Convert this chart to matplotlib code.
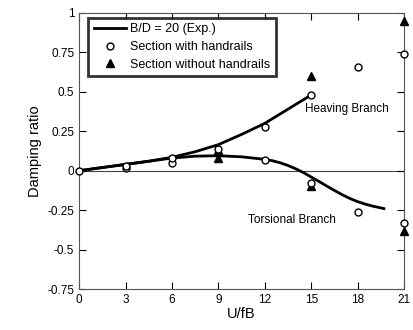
import matplotlib.pyplot as plt

plt.rcParams['font.family'] = ['Liberation Sans', 'DejaVu Sans']

# experimental curves (B/D = 20)
heave_x = [0, 1.5, 3, 4.5, 6, 7.5, 9, 10.5, 12, 13.5, 15]
heave_y = [0, 0.02, 0.04, 0.06, 0.085, 0.12, 0.165, 0.23, 0.30, 0.39, 0.48]
tors_x = [0, 1.5, 3, 4.5, 6, 7.5, 9, 10.5, 12, 12.5, 13, 13.5, 14, 14.5, 15, 15.5,
          16, 16.5, 17, 17.5, 18, 18.5, 19, 19.7]
tors_y = [0, 0.02, 0.04, 0.06, 0.08, 0.092, 0.095, 0.088, 0.072, 0.063, 0.05, 0.033,
          0.012, -0.012, -0.04, -0.068, -0.097, -0.125, -0.152, -0.176, -0.196,
          -0.212, -0.225, -0.24]

# section with handrails
with_x = [0, 3, 3, 6, 6, 9, 12, 12, 15, 15, 18, 18, 21, 21]
with_y = [0, 0.02, 0.03, 0.05, 0.08, 0.14, 0.28, 0.07, 0.48, -0.08, 0.66, -0.26, 0.74, -0.33]

# section without handrails
without_x = [9, 9, 15, 15, 21, 21]
without_y = [0.13, 0.08, 0.60, -0.10, 0.95, -0.38]

fig = plt.figure(figsize=(4.14, 3.3), dpi=100)
ax = fig.add_axes([0.191, 0.124, 0.785, 0.837])

ax.axhline(0, color='#444444', lw=0.8, zorder=1)
ax.plot(heave_x, heave_y, color='black', lw=2, label='B/D = 20 (Exp.)', zorder=2)
ax.plot(tors_x, tors_y, color='black', lw=2, zorder=2)
ax.plot(with_x, with_y, 'o', mfc='white', mec='black', ms=5, mew=1,
        label='Section with handrails', clip_on=False, zorder=4)
ax.plot(without_x, without_y, '^', color='black', ms=6,
        label='Section without handrails', clip_on=False, zorder=3)

ax.text(14.6, 0.39, 'Heaving Branch', fontsize=8.5, va='center')
ax.text(10.9, -0.31, 'Torsional Branch', fontsize=8.5, va='center')

ax.set_xlim(0, 21)
ax.set_ylim(-0.75, 1)
ax.set_xticks([0, 3, 6, 9, 12, 15, 18, 21])
ax.set_yticks([-0.75, -0.5, -0.25, 0, 0.25, 0.5, 0.75, 1])
ax.set_yticklabels(['-0.75', '-0.5', '-0.25', '0', '0.25', '0.5', '0.75', '1'])
ax.tick_params(direction='in', top=True, right=True, labelsize=8.5, length=5, width=0.8)
ax.set_xlabel('U/fB', fontsize=10.5, labelpad=1)
ax.set_ylabel('Damping ratio', fontsize=10.5)
for s in ax.spines.values():
    s.set_color('#555555')

leg = ax.legend(loc='upper left', fontsize=9, handlelength=2.6, borderpad=0.45,
                labelspacing=0.45, handletextpad=0.3, fancybox=False,
                bbox_to_anchor=(0.028, 0.982), borderaxespad=0)
leg.get_frame().set_edgecolor('black')
leg.get_frame().set_linewidth(2)

fig.savefig('out.png', dpi=100)
